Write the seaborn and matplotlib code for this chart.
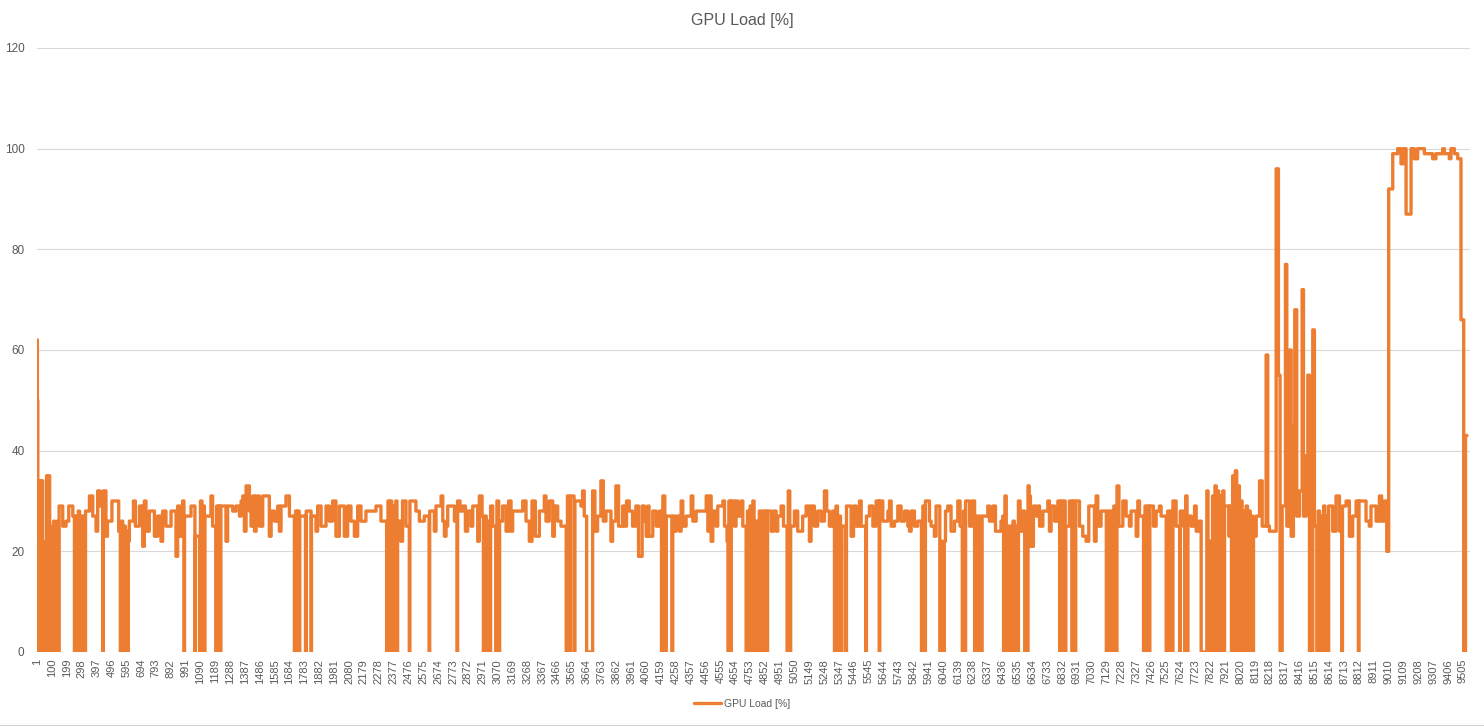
import numpy as np
import pandas as pd
import matplotlib
matplotlib.use('Agg')
import matplotlib.pyplot as plt
import seaborn as sns
from matplotlib.lines import Line2D

part_1 = [(1, 62), (3, 50), (6, 0), (10, 34), (18, 0), (22, 34), (30, 0), (34, 34), (38, 0), (40, 22),
          (45, 0), (64, 35), (70, 0), (74, 35), (85, 0), (89, 24), (95, 0), (101, 25), (107, 0), (112, 26),
          (118, 0), (124, 25), (130, 0), (137, 26), (143, 0), (148, 29), (172, 25), (194, 26), (212, 29),
          (239, 27), (250, 0), (258, 27), (266, 0), (276, 28), (284, 0), (293, 27), (301, 0), (310, 27),
          (318, 0), (324, 28), (350, 31), (372, 27), (394, 24), (405, 32), (421, 29), (438, 0), (442, 32),
          (460, 23), (470, 26), (500, 30), (545, 24), (556, 0), (564, 26), (572, 0), (581, 25), (590, 0),
          (598, 24), (604, 0), (608, 22), (616, 26), (643, 30), (656, 25), (683, 29), (705, 21), (716, 30),
          (727, 24), (749, 28), (783, 23), (805, 27), (827, 22), (838, 28), (860, 25), (894, 28), (927, 19),
          (938, 29), (954, 23), (971, 30), (980, 0), (984, 27), (1027, 29), (1053, 0), (1056, 23), (1084, 0),
          (1090, 30), (1100, 0), (1106, 29), (1116, 0), (1120, 27), (1160, 31), (1171, 25), (1192, 0),
          (1198, 29), (1208, 0), (1213, 29), (1222, 0), (1226, 29), (1260, 22), (1271, 29)]
part_2 = [(1283, 29), (1305, 28), (1327, 29), (1350, 27), (1361, 30), (1372, 31), (1383, 24), (1394, 33),
          (1416, 28), (1427, 25), (1438, 31), (1450, 24), (1461, 31), (1483, 25), (1505, 31), (1549, 23),
          (1561, 28), (1583, 26), (1605, 29), (1616, 24), (1627, 29), (1660, 31), (1683, 27), (1716, 0),
          (1724, 28), (1732, 0), (1738, 28), (1748, 0), (1752, 27), (1790, 0), (1795, 28), (1827, 0),
          (1830, 27), (1860, 24), (1871, 29), (1894, 25), (1927, 29), (1949, 26), (1971, 30), (1993, 23),
          (2016, 29), (2049, 23), (2071, 29), (2093, 26), (2116, 23), (2138, 29), (2160, 26), (2193, 28),
          (2260, 29), (2293, 26), (2331, 0), (2340, 30), (2348, 0), (2357, 30), (2365, 0), (2374, 29),
          (2382, 0), (2392, 30), (2400, 0), (2404, 26), (2426, 22), (2437, 30), (2460, 25), (2482, 0),
          (2486, 30), (2526, 28), (2549, 26), (2582, 27)]
part_3 = [(2614, 0), (2618, 28), (2649, 24), (2660, 29), (2694, 31), (2705, 26), (2716, 23), (2727, 25),
          (2738, 29), (2783, 26), (2800, 0), (2804, 30), (2820, 28), (2838, 29), (2856, 24), (2871, 28),
          (2894, 25), (2905, 29), (2938, 22), (2949, 31), (2967, 27), (2976, 0), (2985, 27), (2995, 0),
          (3005, 26), (3015, 0), (3024, 29), (3038, 25), (3058, 0), (3066, 30), (3078, 0), (3084, 26),
          (3104, 29), (3127, 24), (3144, 30), (3160, 24), (3171, 28), (3238, 30), (3260, 26), (3282, 22),
          (3300, 30), (3322, 23), (3349, 28), (3382, 31), (3393, 26), (3415, 30), (3438, 23), (3449, 29),
          (3471, 26), (3493, 25), (3528, 0), (3536, 31), (3546, 0), (3556, 31), (3580, 0), (3586, 30),
          (3626, 29), (3637, 32), (3648, 27), (3664, 0), (3704, 32), (3719, 24), (3737, 27), (3759, 34),
          (3775, 26), (3793, 28), (3826, 22), (3837, 26), (3859, 33), (3877, 25), (3904, 29), (3915, 25),
          (3930, 30), (3948, 28), (3970, 25), (3992, 29), (4010, 19)]
part_4 = [(4034, 29), (4050, 26), (4061, 23), (4072, 29), (4080, 23), (4105, 28), (4128, 25), (4150, 28),
          (4163, 0), (4172, 31), (4185, 0), (4195, 27), (4232, 0), (4238, 27), (4250, 24), (4261, 27),
          (4283, 24), (4294, 30), (4305, 25), (4327, 27), (4361, 31), (4372, 26), (4394, 28), (4461, 31),
          (4472, 24), (4483, 31), (4494, 22), (4505, 28), (4527, 25), (4538, 29), (4572, 30), (4583, 25),
          (4600, 22), (4606, 0), (4612, 30), (4622, 0), (4628, 30), (4649, 25), (4660, 30), (4672, 27),
          (4694, 30), (4705, 25), (4727, 0), (4736, 28), (4745, 0), (4754, 29), (4763, 0), (4772, 30),
          (4780, 0), (4788, 26), (4805, 0), (4815, 28), (4825, 0), (4835, 28), (4845, 0), (4855, 28),
          (4864, 0), (4870, 28), (4894, 24), (4909, 28), (4927, 24), (4938, 27), (4960, 29), (4976, 25),
          (5000, 0), (5008, 32), (5018, 0), (5024, 25), (5049, 28), (5071, 24), (5104, 27), (5127, 29),
          (5149, 22), (5160, 29), (5182, 25), (5204, 28), (5227, 26), (5249, 32), (5264, 28), (5282, 25),
          (5304, 28)]
part_5 = [(5316, 0), (5326, 29), (5336, 0), (5346, 27), (5356, 0), (5366, 25), (5392, 0), (5396, 29),
          (5427, 23), (5443, 29), (5461, 25), (5483, 30), (5494, 25), (5525, 0), (5529, 27), (5549, 29),
          (5572, 25), (5594, 30), (5614, 0), (5618, 30), (5638, 26), (5672, 28), (5683, 30), (5694, 25),
          (5716, 26), (5738, 29), (5760, 26), (5783, 28), (5805, 25), (5816, 24), (5827, 28), (5849, 25),
          (5871, 26), (5896, 0), (5905, 29), (5915, 0), (5922, 30), (5949, 26), (5960, 25), (5982, 23),
          (5993, 29), (6018, 0), (6028, 22), (6038, 0), (6048, 22), (6056, 28), (6071, 29), (6093, 24),
          (6116, 26), (6138, 30), (6153, 25), (6168, 0), (6176, 28), (6186, 0), (6190, 30), (6216, 25),
          (6233, 30), (6250, 0), (6260, 27), (6270, 0), (6280, 27), (6290, 0), (6300, 27), (6338, 29),
          (6349, 26), (6371, 29), (6389, 24), (6426, 26), (6437, 27), (6443, 0), (6452, 31), (6461, 0),
          (6470, 25), (6479, 0), (6488, 25), (6497, 0), (6506, 26), (6515, 0), (6524, 25), (6533, 0),
          (6542, 30), (6553, 24), (6571, 28), (6584, 0), (6592, 27), (6600, 0), (6606, 33), (6614, 31),
          (6622, 21), (6642, 29), (6659, 27)]
part_6 = [(6672, 29), (6683, 25), (6705, 28), (6738, 30), (6749, 24), (6760, 29), (6783, 26), (6805, 30),
          (6817, 0), (6826, 30), (6836, 0), (6846, 30), (6854, 0), (6858, 25), (6882, 30), (6898, 0),
          (6906, 30), (6916, 0), (6924, 30), (6949, 25), (6971, 23), (6993, 22), (7011, 29), (7049, 22),
          (7060, 31), (7071, 25), (7093, 28), (7128, 0), (7138, 28), (7148, 0), (7158, 28), (7168, 0),
          (7178, 29), (7194, 0), (7199, 33), (7212, 25), (7238, 30), (7260, 27), (7282, 25), (7293, 28),
          (7327, 23), (7338, 30), (7349, 27), (7376, 0), (7386, 29), (7396, 0), (7406, 29), (7414, 0),
          (7418, 29), (7442, 25), (7460, 28), (7482, 29), (7493, 27), (7527, 0), (7537, 28), (7547, 0),
          (7557, 28), (7566, 0), (7572, 30), (7593, 25), (7617, 0), (7621, 28), (7642, 25), (7650, 0),
          (7657, 31), (7666, 0)]
part_7 = [(7672, 27), (7694, 25), (7716, 29), (7727, 24), (7745, 26), (7760, 0), (7798, 32), (7806, 0),
          (7811, 22), (7830, 0), (7836, 31), (7845, 0), (7852, 33), (7861, 0), (7868, 32), (7877, 0),
          (7886, 31), (7895, 0), (7904, 32), (7912, 0), (7916, 29), (7945, 23), (7949, 29), (7962, 0),
          (7970, 35), (7979, 0), (7988, 36), (7997, 0), (8006, 33), (8015, 0), (8024, 30), (8033, 0),
          (8042, 28), (8051, 0), (8060, 29), (8069, 0), (8078, 28), (8087, 0), (8096, 27), (8105, 0),
          (8109, 23), (8127, 27), (8149, 34), (8167, 25), (8193, 59), (8204, 25), (8215, 24), (8260, 96),
          (8275, 55), (8286, 0), (8300, 29), (8322, 77), (8331, 25), (8349, 60), (8360, 23), (8375, 45),
          (8384, 68), (8397, 27), (8415, 32), (8433, 72), (8442, 27), (8460, 39), (8471, 55), (8482, 0),
          (8492, 28), (8500, 0), (8504, 64), (8515, 25), (8531, 0), (8540, 28), (8549, 0), (8558, 27),
          (8567, 0), (8576, 29), (8585, 0), (8594, 27), (8603, 0), (8610, 29), (8637, 24), (8659, 31),
          (8682, 24), (8698, 0), (8702, 29), (8726, 30), (8748, 23), (8770, 27), (8793, 30), (8808, 0),
          (8812, 30), (8859, 26), (8881, 25), (8892, 29), (8926, 26), (8948, 31), (8963, 26), (8981, 30),
          (8997, 20), (9010, 92), (9037, 99), (9070, 100), (9092, 97), (9108, 100), (9126, 87), (9159, 100),
          (9181, 98), (9203, 100), (9248, 99), (9303, 98), (9325, 99), (9370, 100), (9381, 99), (9414, 98),
          (9425, 100), (9448, 99), (9470, 98), (9492, 66), (9510, 0), (9522, 43)]

n_samples = 9532
tick_samples = list(range(1, 9506, 99))

pairs = part_1 + part_2 + part_3 + part_4 + part_5 + part_6 + part_7
df = pd.DataFrame(pairs, columns=['sample', 'load'])
df = pd.concat([df, pd.DataFrame({'sample': [n_samples], 'load': [df['load'].iloc[-1]]})])
df = df.drop_duplicates('sample', keep='last').sort_values('sample')

orange = '#ED7D31'
grey = '#595959'

sns.set_style('white')
plt.rcParams['font.family'] = ['Liberation Sans', 'DejaVu Sans']

fig = plt.figure(figsize=(14.84, 7.26), dpi=100)
ax = fig.add_axes([37 / 1484, 1 - 652 / 726, (1470 - 37) / 1484, (652 - 48) / 726])
sns.lineplot(data=df, x='sample', y='load', ax=ax, color=orange, lw=2.4,
             drawstyle='steps-post', estimator=None, legend=False)

ax.set_ylim(0, 120)
ax.set_xlim(0.5, 9552)
ax.set_yticks(range(0, 121, 20))
ax.yaxis.grid(True, color='#D9D9D9', lw=0.8)
ax.xaxis.grid(False)
ax.set_axisbelow(True)
for s in ax.spines.values():
    s.set_visible(False)

ax.set_xticks(tick_samples)
ax.set_xticklabels([str(v) for v in tick_samples], rotation=90,
                   family=['Liberation Sans Narrow', 'Liberation Sans'])
ax.tick_params(axis='x', length=0, pad=5, labelsize=8, labelcolor=grey)
ax.tick_params(axis='y', length=0, pad=9, labelsize=8.5, labelcolor=grey)
ax.set_xlabel('')
ax.set_ylabel('')

fig.text(0.5, 1 - 20 / 726, 'GPU Load [%]', ha='center', va='center', fontsize=11.5, color=grey)

handle = Line2D([0], [0], color=orange, lw=2.4)
fig.legend([handle], ['GPU Load [%]'], loc='center', bbox_to_anchor=(0.5, 1 - 704 / 726),
           frameon=False, fontsize=7.5, handlelength=2.6, handletextpad=0.3, labelcolor=grey)

# Tabellen-Raster unter dem Diagramm
cell_line = '#D4D4D4'
fig.add_artist(Line2D([0, 1], [1 - 724.5 / 726] * 2, transform=fig.transFigure, color=cell_line, lw=0.8))
for px in range(52, 1484, 72):
    fig.add_artist(Line2D([px / 1484] * 2, [0, 1 - 724.5 / 726], transform=fig.transFigure,
                          color=cell_line, lw=0.8))

fig.savefig('out.png', dpi=100)
